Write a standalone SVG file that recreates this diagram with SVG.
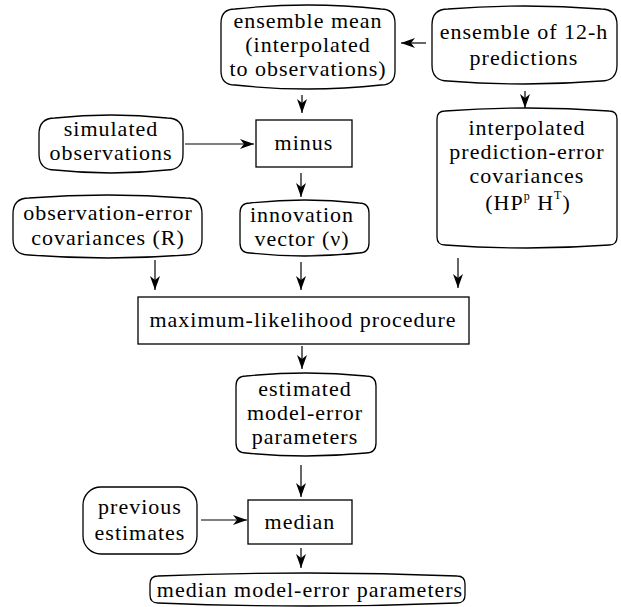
<svg xmlns="http://www.w3.org/2000/svg" width="621" height="607" viewBox="0 0 621 607">
<style>
.b{fill:#fff;stroke:#000;stroke-width:1.3}
.t{font-size:22px;fill:#000;text-anchor:middle;letter-spacing:1px}
.c{fill:none;stroke:#000;stroke-width:1.2}
</style>
<defs>
<marker id="ah" markerUnits="userSpaceOnUse" markerWidth="16" markerHeight="12" refX="14" refY="5" orient="auto">
<path d="M14,5 L0,0 L4,5 L0,10 Z" fill="#000"/>
</marker>
</defs>
<rect width="621" height="607" fill="#fff"/>
<g font-family="Liberation Serif, DejaVu Serif, serif">
<g id="ensemble-mean">
<path class="b" d="M221,23 Q221,9 235,9 Q308,1 381,9 Q395,9 395,23 L395,71 Q395,85 381,85 Q308,93 235,85 Q221,85 221,71 Z"/>
<text class="t" x="308" y="28">ensemble mean</text>
<text class="t" x="308" y="52">(interpolated</text>
<text class="t" x="308" y="76">to observations)</text>
</g>
<g id="ensemble-predictions">
<path class="b" d="M432,25 Q432,9 448,9 Q524.5,3 601,9 Q617,9 617,25 L617,65 Q617,81 601,81 Q524.5,87 448,81 Q432,81 432,65 Z"/>
<text class="t" x="524" y="39">ensemble of 12-h</text>
<text class="t" x="524" y="65">predictions</text>
</g>
<g id="interpolated-covariances">
<path class="b" d="M437,119 Q437,111 445,111 Q527,105 609,111 Q617,111 617,119 L617,237 Q617,245 609,245 Q527,251 445,245 Q437,245 437,237 Z"/>
<text class="t" x="527" y="135">interpolated</text>
<text class="t" x="527" y="159">prediction-error</text>
<text class="t" x="527" y="183">covariances</text>
<text class="t" x="528" y="210">(HP<tspan dy="-10" font-size="12">p</tspan><tspan dy="10"> H</tspan><tspan dy="-11" font-size="12">T</tspan><tspan dy="11">)</tspan></text>
</g>
<g id="simulated-observations">
<path class="b" d="M39,134 Q39,118 55,118 Q111,112 167,118 Q183,118 183,134 L183,154 Q183,170 167,170 Q111,176 55,170 Q39,170 39,154 Z"/>
<text class="t" x="111" y="136">simulated</text>
<text class="t" x="111" y="160">observations</text>
</g>
<g id="minus">
<rect class="b" x="256" y="120" width="96" height="47"/>
<text class="t" x="304" y="150">minus</text>
</g>
<g id="observation-error">
<path class="b" d="M13,214 Q13,198 29,198 Q107.5,192 186,198 Q202,198 202,214 L202,239 Q202,255 186,255 Q107.5,261 29,255 Q13,255 13,239 Z"/>
<text class="t" x="108" y="220">observation-error</text>
<text class="t" x="108" y="245">covariances (R)</text>
</g>
<g id="innovation-vector">
<path class="b" d="M240,213 Q240,203 250,203 Q304.5,197 359,203 Q369,203 369,213 L369,243 Q369,253 359,253 Q304.5,259 250,253 Q240,253 240,243 Z"/>
<text class="t" x="302" y="222">innovation</text>
<text class="t" x="302" y="246">vector (ν)</text>
</g>
<g id="maximum-likelihood">
<rect class="b" x="138" y="297" width="331" height="47"/>
<text class="t" x="303" y="327">maximum-likelihood procedure</text>
</g>
<g id="estimated-parameters">
<path class="b" d="M236,386 Q236,376 246,376 Q306,370 366,376 Q376,376 376,386 L376,443 Q376,453 366,453 Q306,459 246,453 Q236,453 236,443 Z"/>
<text class="t" x="305" y="396">estimated</text>
<text class="t" x="305" y="420">model-error</text>
<text class="t" x="305" y="444">parameters</text>
</g>
<g id="median">
<rect class="b" x="248" y="500" width="104" height="44"/>
<text class="t" x="300" y="529">median</text>
</g>
<g id="previous-estimates">
<rect class="b" x="83" y="487" width="114" height="67" rx="18" ry="18"/>
<text class="t" x="140" y="514">previous</text>
<text class="t" x="140" y="540">estimates</text>
</g>
<g id="median-parameters">
<path class="b" d="M150,584 Q150,576 158,576 Q307.5,570 457,576 Q465,576 465,584 L465,595 Q465,603 457,603 Q307.5,609 158,603 Q150,603 150,595 Z"/>
<text class="t" x="310" y="597">median model-error parameters</text>
</g>
</g>
<g id="connectors">
<line class="c" x1="426" y1="43" x2="401" y2="43" marker-end="url(#ah)"/>
<line class="c" x1="302" y1="95" x2="302" y2="113" marker-end="url(#ah)"/>
<line class="c" x1="525" y1="91" x2="525" y2="108" marker-end="url(#ah)"/>
<line class="c" x1="185" y1="144" x2="254" y2="144" marker-end="url(#ah)"/>
<line class="c" x1="301" y1="173" x2="301" y2="197" marker-end="url(#ah)"/>
<line class="c" x1="155" y1="260" x2="155" y2="290" marker-end="url(#ah)"/>
<line class="c" x1="301" y1="262" x2="301" y2="290" marker-end="url(#ah)"/>
<line class="c" x1="458" y1="258" x2="458" y2="288" marker-end="url(#ah)"/>
<line class="c" x1="302" y1="346" x2="302" y2="369" marker-end="url(#ah)"/>
<line class="c" x1="301" y1="465" x2="301" y2="497" marker-end="url(#ah)"/>
<line class="c" x1="201" y1="520" x2="247" y2="520" marker-end="url(#ah)"/>
<line class="c" x1="301" y1="548" x2="301" y2="568" marker-end="url(#ah)"/>
</g>
</svg>
